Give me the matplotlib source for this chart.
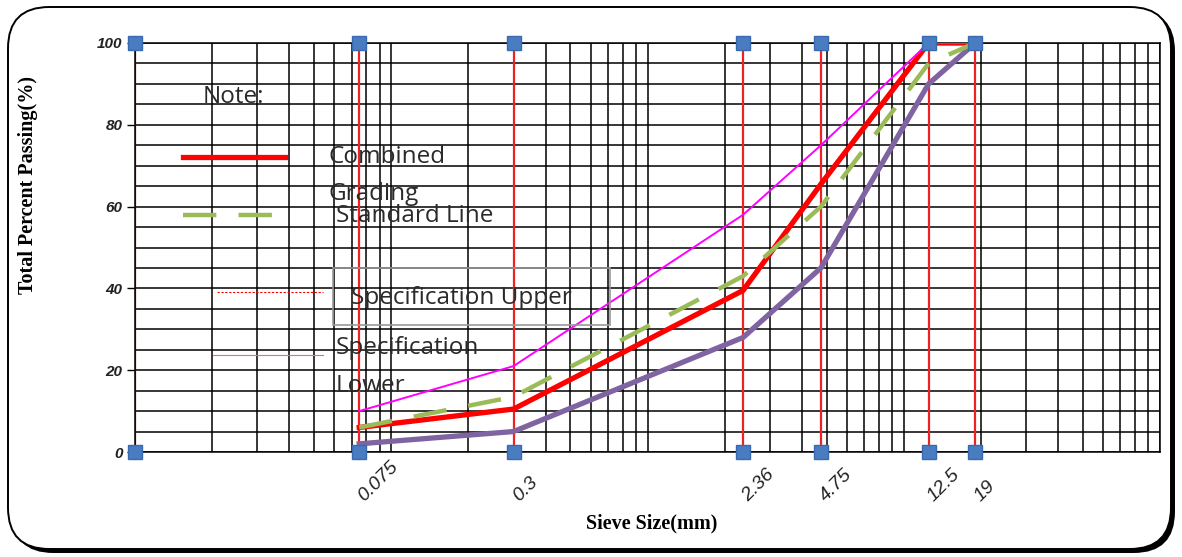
import numpy as np
import matplotlib
matplotlib.use("Agg")
import matplotlib.pyplot as plt
from matplotlib.ticker import LogLocator, MultipleLocator, NullFormatter, FixedLocator
from matplotlib.patches import FancyBboxPatch, Rectangle
from matplotlib.lines import Line2D
import matplotlib.transforms as mtransforms

# ---- data ----
sieve_sizes = [0.075, 0.3, 2.36, 4.75, 12.5, 19]
sieve_labels = ["0.075", "0.3", "2.36", "4.75", "12.5", "19"]
combined = [6, 10.5, 39.5, 65.5, 100, 100]
standard = [6, 13.5, 43, 60, 95, 100]
spec_upper = [10, 21, 58, 75, 100, 100]
spec_lower = [2, 5, 28, 45, 90, 100]
ref_lines = [0.01] + sieve_sizes
y_ticks = [0, 20, 40, 60, 80, 100]

W, H = 1182, 557
fig = plt.figure(figsize=(W / 100, H / 100), dpi=100)

def fx(px):
    return px / W

def fy(py):
    return 1 - py / H

# outer rounded frame with shadow
shadow = FancyBboxPatch((fx(12), fy(553)), fx(1163), (553 - 10) / H,
                        boxstyle="round,pad=0,rounding_size=0.035",
                        transform=fig.transFigure, facecolor="black",
                        edgecolor="black", lw=0, zorder=-2,
                        mutation_aspect=W / H)
fig.patches.append(shadow)
frame = FancyBboxPatch((fx(8), fy(549)), fx(1163), (549 - 7) / H,
                       boxstyle="round,pad=0,rounding_size=0.035",
                       transform=fig.transFigure, facecolor="white",
                       edgecolor="black", lw=1.4, zorder=-1,
                       mutation_aspect=W / H)
fig.patches.append(frame)

ax = fig.add_axes([fx(135), fy(452), fx(1160 - 135), (452 - 43) / H])
ax.set_xscale("log")
ax.set_xlim(0.01, 100)
ax.set_ylim(0, 100)
ax.patch.set_alpha(0)

# grid
ax.xaxis.set_major_locator(FixedLocator(sieve_sizes))
ax.xaxis.set_minor_locator(LogLocator(base=10, subs=np.arange(1, 10)))
ax.xaxis.set_minor_formatter(NullFormatter())
ax.yaxis.set_major_locator(FixedLocator(y_ticks))
ax.yaxis.set_minor_locator(MultipleLocator(5))
ax.grid(which="minor", axis="x", color="black", lw=1.1, zorder=1)
ax.grid(which="both", axis="y", color="black", lw=1.1, zorder=1)
ax.set_axisbelow(True)
for s in ax.spines.values():
    s.set_color("black")
    s.set_linewidth(1.1)

# tick labels
ax.set_xticks(sieve_sizes)
ax.set_xticklabels(sieve_labels)
ax.tick_params(axis="x", which="both", length=0, pad=4)
ax.tick_params(axis="y", which="major", length=6, width=1, pad=3, direction="out")
ax.tick_params(axis="y", which="minor", length=0)
ax.set_yticks(y_ticks)
ax.set_yticklabels([str(v) for v in y_ticks], fontstyle="italic",
                   fontweight="bold", fontsize=11, color="#222222",
                   family="Liberation Sans")
offset = mtransforms.ScaledTranslation(8 / 100, -47 / 100, fig.dpi_scale_trans)
for lab in ax.get_xticklabels():
    lab.set_rotation(45)
    lab.set_ha("left")
    lab.set_va("bottom")
    lab.set_rotation_mode("anchor")
    lab.set_fontsize(14)
    lab.set_fontstyle("italic")
    lab.set_family("Liberation Sans")
    lab.set_color("#222222")
    lab.set_transform(lab.get_transform() + offset)

# red reference verticals with blue squares
for xv in ref_lines:
    col = "#C00000" if xv == ref_lines[0] else "#EE2222"
    ax.plot([xv, xv], [0, 100], color=col, lw=1.6, zorder=2)
    ax.plot([xv, xv], [0, 100], ls="none", marker="s", ms=10,
            color="#4A7CC2", mec="#3A6AAE", zorder=6, clip_on=False)

# curves
ax.plot(sieve_sizes, spec_upper, color="#FF00FF", lw=1.4, zorder=4)
ax.plot(sieve_sizes, spec_lower, color="#8064A2", lw=3.8, zorder=3,
        solid_joinstyle="round")
ax.plot(sieve_sizes, standard, color="#9BBB59", lw=3.2, zorder=4,
        dashes=(7.5, 5))
ax.plot(sieve_sizes, combined, color="#FF0000", lw=3.8, zorder=3.5,
        solid_joinstyle="round")

# axis labels
fig.text(fx(28), fy(185), "Total Percent Passing(%)", rotation=90,
         ha="center", va="center", fontsize=14.5, fontweight="bold",
         family="Liberation Serif")
fig.text(fx(652), fy(523), "Sieve Size(mm)", ha="center", va="center",
         fontsize=14.5, fontweight="bold", family="Liberation Serif")

# pseudo legend
tcol = "#2a2a2a"
lfont = dict(family="Open Sans", fontsize=17.5, color=tcol, va="center",
             ha="left", zorder=10)
fig.text(fx(203), fy(97), "Note:", **lfont)
fig.add_artist(Line2D([fx(183), fx(285)], [fy(157), fy(157)], color="#FF0000",
                      lw=3.8, transform=fig.transFigure, zorder=10))
fig.text(fx(328), fy(157), "Combined", **lfont)
fig.text(fx(328), fy(194), "Grading", **lfont)
fig.add_artist(Line2D([fx(183), fx(285)], [fy(215), fy(215)], color="#9BBB59",
                      lw=3.2, dashes=(7.5, 5), transform=fig.transFigure,
                      zorder=10))
fig.text(fx(336), fy(216), "Standard Line", **lfont)
fig.add_artist(Line2D([fx(217), fx(323)], [fy(292), fy(292)], color="#FF0000",
                      lw=0.8, dashes=(2, 1.5), transform=fig.transFigure,
                      zorder=10))
fig.add_artist(Rectangle((fx(333), fy(325)), fx(610 - 333), (325 - 268) / H,
                         transform=fig.transFigure, fill=False,
                         edgecolor="#999999", lw=1.2, zorder=10))
fig.text(fx(351), fy(298), "Specification Upper", **lfont)
fig.add_artist(Line2D([fx(213), fx(323)], [fy(355), fy(355)], color="#F06090",
                      lw=0.8, transform=fig.transFigure, zorder=10))
fig.text(fx(336), fy(348), "Specification", **lfont)
fig.text(fx(336), fy(386), "Lower", **lfont)

fig.savefig("out.png", dpi=100)
